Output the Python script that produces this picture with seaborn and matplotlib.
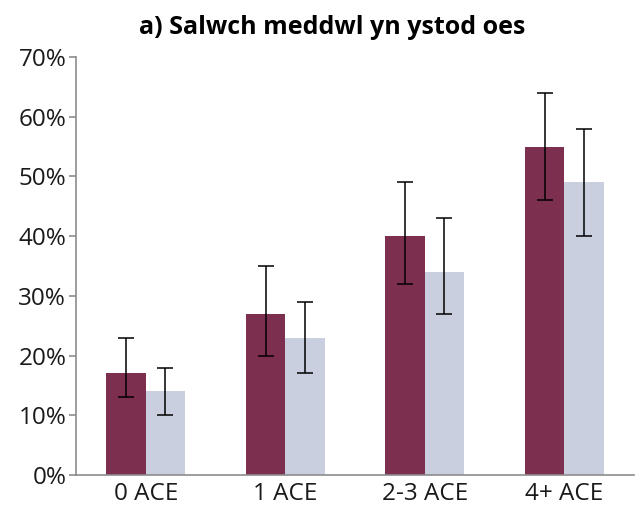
import numpy as np
import pandas as pd
import seaborn as sns
import matplotlib.pyplot as plt
from matplotlib.ticker import FuncFormatter, FixedLocator

# data
categories = ["0 ACE", "1 ACE", "2-3 ACE", "4+ ACE"]
series_names = ["Series 1", "Series 2"]
values_1 = [17, 27, 40, 55]
low_1 = [13, 20, 32, 46]
high_1 = [23, 35, 49, 64]
values_2 = [14, 23, 34, 49]
low_2 = [10, 17, 27, 40]
high_2 = [18, 29, 43, 58]

colors = ["#7d2f4f", "#c9cfde"]

df = pd.DataFrame({
    "category": categories * 2,
    "series": [series_names[0]] * 4 + [series_names[1]] * 4,
    "value": values_1 + values_2,
    "low": low_1 + low_2,
    "high": high_1 + high_2,
})

sns.set_style("white")
plt.rcParams["font.family"] = ["Open Sans", "DejaVu Sans"]

fig = plt.figure(figsize=(6.36, 5.08), dpi=100)
ax = fig.add_axes([76 / 636, 33 / 508, 558 / 636, 418 / 508])

sns.barplot(data=df, x="category", y="value", hue="series", order=categories,
            hue_order=series_names, palette=colors, width=0.566, gap=0,
            errorbar=None, legend=False, ax=ax, saturation=1, linewidth=0)

# error bars at the bar centres
for cont, name in zip(ax.containers, series_names):
    sub = df[df["series"] == name].set_index("category").loc[categories]
    xs = [p.get_x() + p.get_width() / 2 for p in cont.patches]
    yerr = [sub["value"] - sub["low"], sub["high"] - sub["value"]]
    ax.errorbar(xs, sub["value"], yerr=yerr, fmt="none", ecolor="black",
                elinewidth=1.1, capsize=5.5, capthick=1.1)

ax.set_ylim(0, 70)
ax.set_xlim(-0.5, len(categories) - 0.5)
ax.set_yticks(np.arange(0, 71, 10))
ax.yaxis.set_major_formatter(FuncFormatter(lambda v, p: f"{v:.0f}%"))
ax.set_xlabel("")
ax.set_ylabel("")

for s in ["top", "right"]:
    ax.spines[s].set_visible(False)
for s in ["left", "bottom"]:
    ax.spines[s].set_color("#8c8c8c")
    ax.spines[s].set_linewidth(1.2)

ax.xaxis.set_minor_locator(FixedLocator(np.arange(-0.5, len(categories), 1)))
ax.tick_params(axis="x", which="major", length=0, labelsize=17.5, colors="#1a1a1a", pad=5)
ax.tick_params(axis="x", which="minor", length=8, color="#8c8c8c", width=1.2, direction="out")
ax.tick_params(axis="y", length=5, color="#8c8c8c", width=1.2, direction="out",
               labelsize=17.5, labelcolor="#1a1a1a", pad=2, left=True)

fig.text(332 / 636, 1 - 28 / 508, "a) Salwch meddwl yn ystod oes", ha="center",
         va="center", fontsize=18, fontweight="bold", color="black")

fig.savefig("out.png", dpi=100)
